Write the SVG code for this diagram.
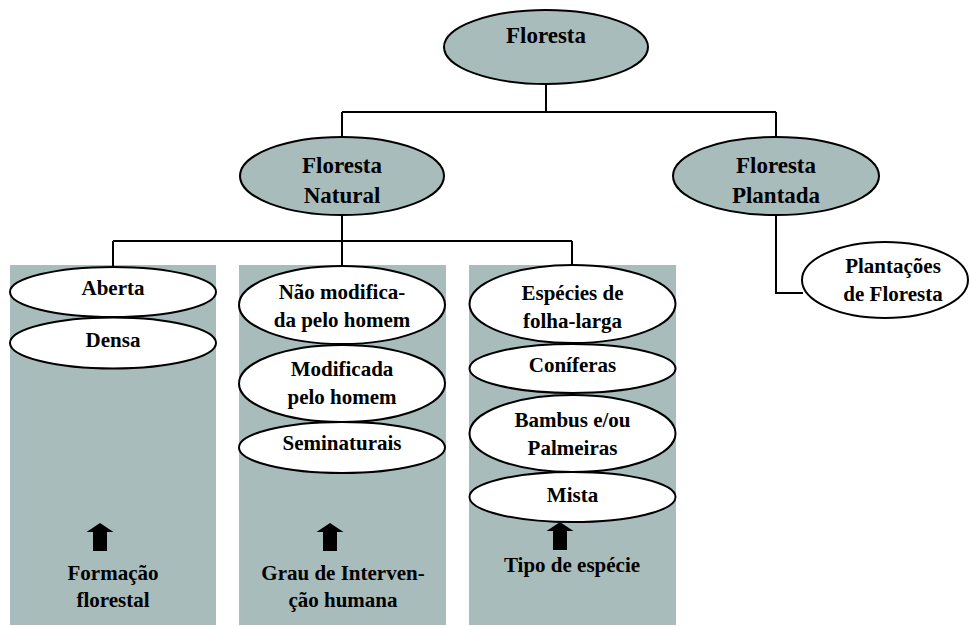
<svg xmlns="http://www.w3.org/2000/svg" width="971" height="626" viewBox="0 0 971 626">
  <style>
    .panel { fill: #A8BCBC; stroke: none; }
    .main { fill: #A8BCBC; stroke: #000; stroke-width: 2; }
    .sub { fill: #fff; stroke: #000; stroke-width: 2; }
    .link { fill: none; stroke: #000; stroke-width: 2; }
    text { font-weight: bold; fill: #000; text-anchor: middle; }
    .big { font-size: 23px; }
    .sm { font-size: 21px; }
    .up { fill: #000; }
  </style>
  <defs>
    <path id="uparrow" d="M0,0 L13.5,9 L7,9 L7,28 L-7,28 L-7,9 L-13.5,9 Z"/>
  </defs>
  <rect width="971" height="626" fill="#fff"/>

  <!-- background panels -->
  <g id="panels">
    <rect class="panel" x="10" y="265" width="206" height="360"/>
    <rect class="panel" x="239" y="265" width="207" height="360"/>
    <rect class="panel" x="469" y="265" width="207" height="360"/>
  </g>

  <!-- connectors -->
  <g id="connectors">
    <path class="link" d="M546,84 V112 M342,112 H776 M342,112 V137 M776,112 V138"/>
    <path class="link" d="M342,215 V265 M113,241 H572 M113,241 V266 M572,241 V266"/>
    <path class="link" d="M776,215 V293 H803"/>
  </g>

  <g font-family="'Liberation Serif', 'Times New Roman', Tinos, 'DejaVu Serif', serif">
  <g id="floresta">
    <ellipse class="main" cx="546" cy="47" rx="102" ry="37"/>
    <text class="big" x="546" y="43">Floresta</text>
  </g>
  <g id="floresta-natural">
    <ellipse class="main" cx="342" cy="176" rx="102" ry="39"/>
    <text class="big" x="342" y="173">Floresta</text>
    <text class="big" x="342" y="203">Natural</text>
  </g>
  <g id="floresta-plantada">
    <ellipse class="main" cx="776" cy="176" rx="103" ry="39"/>
    <text class="big" x="776" y="173">Floresta</text>
    <text class="big" x="776" y="203">Plantada</text>
  </g>
  <g id="plantacoes">
    <ellipse class="sub" cx="885" cy="280" rx="83" ry="38"/>
    <text class="sm" x="893" y="273">Plantações</text>
    <text class="sm" x="893" y="301">de Floresta</text>
  </g>

  <!-- formação florestal -->
  <g id="aberta">
    <ellipse class="sub" cx="113" cy="292" rx="103" ry="25"/>
    <text class="sm" x="113" y="295">Aberta</text>
  </g>
  <g id="densa">
    <ellipse class="sub" cx="113" cy="343" rx="103" ry="25.5"/>
    <text class="sm" x="113" y="347">Densa</text>
  </g>
  <g id="formacao-florestal">
    <use href="#uparrow" class="up" x="100" y="523"/>
    <text class="sm" x="113" y="580">Formação</text>
    <text class="sm" x="113" y="607">florestal</text>
  </g>

  <!-- grau de intervenção humana -->
  <g id="nao-modificada">
    <ellipse class="sub" cx="342" cy="305" rx="103" ry="39"/>
    <text class="sm" x="342" y="299">Não modifica-</text>
    <text class="sm" x="342" y="327">da pelo homem</text>
  </g>
  <g id="modificada">
    <ellipse class="sub" cx="342" cy="383.5" rx="103" ry="38.5"/>
    <text class="sm" x="342" y="376">Modificada</text>
    <text class="sm" x="342" y="404">pelo homem</text>
  </g>
  <g id="seminaturais">
    <ellipse class="sub" cx="342" cy="447.5" rx="103" ry="25.5"/>
    <text class="sm" x="342" y="450">Seminaturais</text>
  </g>
  <g id="grau-intervencao">
    <use href="#uparrow" class="up" x="330" y="523"/>
    <text class="sm" x="343" y="580">Grau de Interven-</text>
    <text class="sm" x="343" y="607">ção humana</text>
  </g>

  <!-- tipo de espécie -->
  <g id="folha-larga">
    <ellipse class="sub" cx="572.5" cy="304" rx="103" ry="39"/>
    <text class="sm" x="572.5" y="300">Espécies de</text>
    <text class="sm" x="572.5" y="328">folha-larga</text>
  </g>
  <g id="coniferas">
    <ellipse class="sub" cx="572.5" cy="368.5" rx="103" ry="24.5"/>
    <text class="sm" x="572.5" y="372">Coníferas</text>
  </g>
  <g id="bambus">
    <ellipse class="sub" cx="572.5" cy="433.5" rx="103" ry="38.5"/>
    <text class="sm" x="572.5" y="427">Bambus e/ou</text>
    <text class="sm" x="572.5" y="455">Palmeiras</text>
  </g>
  <g id="mista">
    <ellipse class="sub" cx="572.5" cy="497" rx="103" ry="25"/>
    <text class="sm" x="572.5" y="502">Mista</text>
  </g>
  <g id="tipo-especie">
    <use href="#uparrow" class="up" x="560" y="522"/>
    <text class="sm" x="572" y="572">Tipo de espécie</text>
  </g>
  </g>
</svg>
